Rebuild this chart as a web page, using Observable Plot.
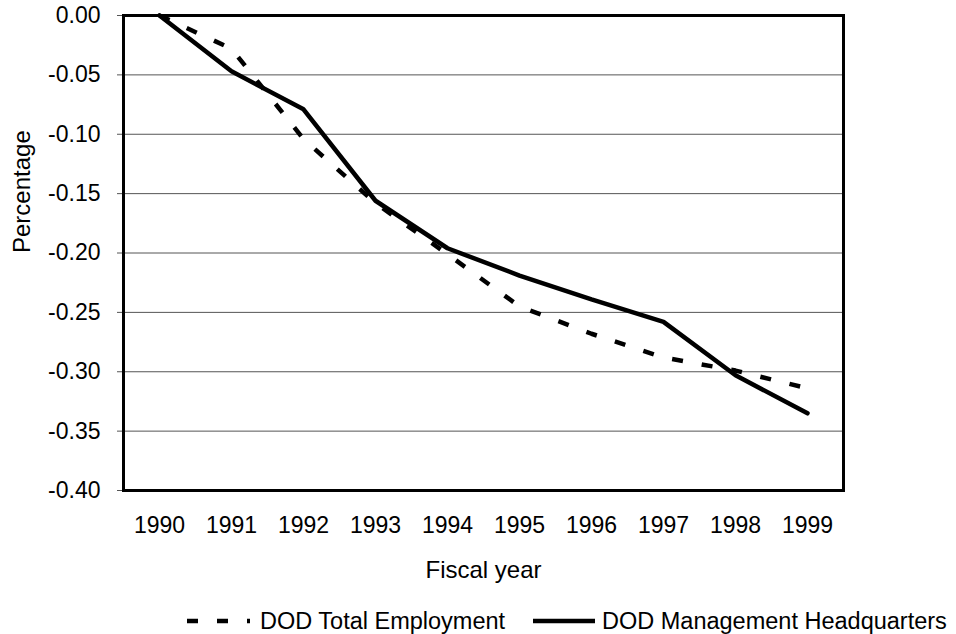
<!DOCTYPE html>
<html>
<head>
<meta charset="utf-8">
<script src="https://cdn.jsdelivr.net/npm/d3@7"></script>
<script src="https://cdn.jsdelivr.net/npm/@observablehq/plot@0.6"></script>
<style>
  html, body { margin: 0; padding: 0; background: #fff; }
  body { width: 956px; height: 634px; overflow: hidden; font-family: "Liberation Sans", Arial, sans-serif; color: #000; }
  #legend { position: relative; width: 956px; height: 34px; }
  #legend .item { position: absolute; top: 0; height: 42px; display: flex; align-items: center; font-size: 23.5px; white-space: nowrap; }
  #legend svg { display: block; }
</style>
</head>
<body>
<div id="chart"></div>
<div id="legend"></div>
<script>
const years = [1990, 1991, 1992, 1993, 1994, 1995, 1996, 1997, 1998, 1999];
const totalEmployment = [0, -0.028, -0.104, -0.158, -0.201, -0.245, -0.268, -0.288, -0.299, -0.314];
const mgmtHeadquarters = [0, -0.047, -0.079, -0.156, -0.196, -0.219, -0.239, -0.258, -0.303, -0.335];
const yTicks = [0, -0.05, -0.10, -0.15, -0.20, -0.25, -0.30, -0.35, -0.40];
const seriesNames = ["DOD Total Employment", "DOD Management Headquarters"];
const xLabel = "Fiscal year";
const yLabel = "Percentage";

const totalData = years.map((y, i) => ({year: y, value: totalEmployment[i]}));
const hqData = years.map((y, i) => ({year: y, value: mgmtHeadquarters[i]}));
const fmtY = d => (d < 0 ? "-" : "") + Math.abs(d).toFixed(2);

const chart = Plot.plot({
  width: 956,
  height: 600,
  marginLeft: 123,
  marginRight: 113,
  marginTop: 15,
  marginBottom: 110,
  style: {fontFamily: "Liberation Sans, Arial, sans-serif", fontSize: "23px", background: "#fff", color: "#000", overflow: "visible"},
  x: {type: "point", domain: years, padding: 0.5},
  y: {domain: [-0.40, 0]},
  marks: [
    Plot.gridY(yTicks.slice(1, -1), {stroke: "#555", strokeOpacity: 1, strokeWidth: 1}),
    Plot.axisY(yTicks, {tickSize: 6, tickPadding: 17, fontSize: 23, stroke: "#555", strokeOpacity: 1, tickFormat: fmtY, label: null, fill: "#000"}),
    Plot.axisX({tickSize: 0, tickPadding: 26, fontSize: 23, label: null, tickFormat: d => String(d), fill: "#000"}),
    Plot.line(totalData, {x: "year", y: "value", stroke: "#000", strokeWidth: 4.5, strokeDasharray: "11,19", strokeLinecap: "butt", strokeLinejoin: "miter"}),
    Plot.line(hqData, {x: "year", y: "value", stroke: "#000", strokeWidth: 4.5, strokeLinejoin: "miter"}),
    Plot.frame({stroke: "#000", strokeWidth: 3}),
    Plot.text([xLabel], {text: d => d, frameAnchor: "bottom", dy: 80, fontSize: 24, fill: "#000", lineAnchor: "middle"}),
    Plot.text([yLabel], {text: d => d, frameAnchor: "left", dx: -101, rotate: -90, fontSize: 24, fill: "#000", lineAnchor: "middle"})
  ]
});
document.getElementById("chart").appendChild(chart);

// Legend (HTML, below the SVG)
const legend = document.getElementById("legend");
const items = [
  {left: 187, sampleW: 63, dash: "11,19", name: seriesNames[0]},
  {left: 533, sampleW: 62, dash: null, name: seriesNames[1]}
];
for (const it of items) {
  const div = document.createElement("div");
  div.className = "item";
  div.style.left = it.left + "px";
  const ns = "http://www.w3.org/2000/svg";
  const svg = document.createElementNS(ns, "svg");
  svg.setAttribute("width", it.sampleW);
  svg.setAttribute("height", 10);
  const ln = document.createElementNS(ns, "line");
  ln.setAttribute("x1", 0); ln.setAttribute("x2", it.sampleW);
  ln.setAttribute("y1", 5); ln.setAttribute("y2", 5);
  ln.setAttribute("stroke", "#000");
  ln.setAttribute("stroke-width", 4.5);
  if (it.dash) ln.setAttribute("stroke-dasharray", it.dash);
  svg.appendChild(ln);
  div.appendChild(svg);
  const span = document.createElement("span");
  span.textContent = it.name;
  span.style.marginLeft = (it.dash ? 10 : 7) + "px";
  div.appendChild(span);
  legend.appendChild(div);
}
</script>
</body>
</html>
